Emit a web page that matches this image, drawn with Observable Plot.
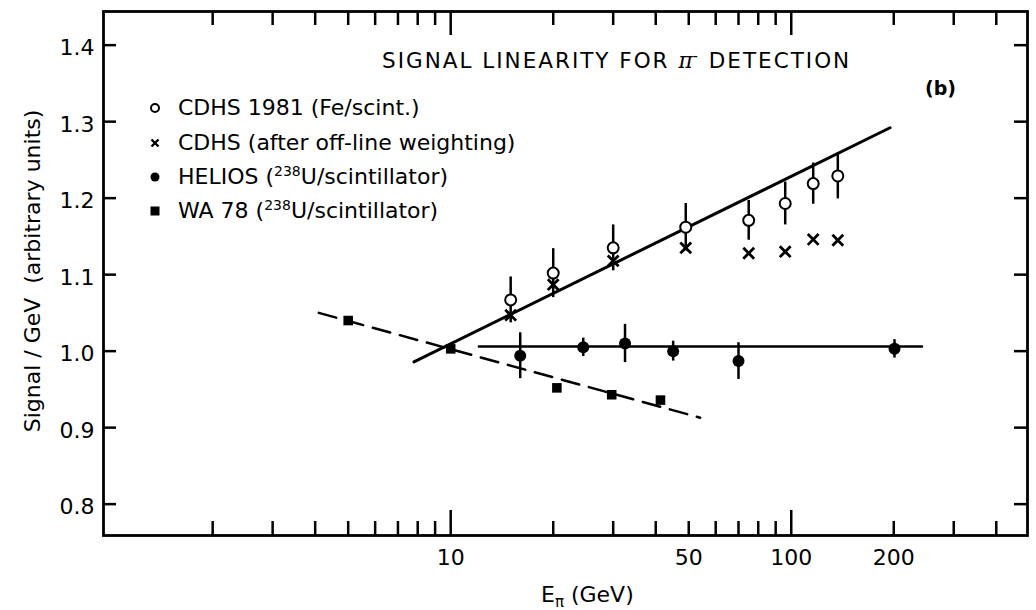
<!DOCTYPE html>
<html><head><meta charset="utf-8">
<script src="https://cdn.jsdelivr.net/npm/d3@7"></script>
<script src="https://cdn.jsdelivr.net/npm/@observablehq/plot@0.6"></script>
<style>
body{margin:0;background:#fff;}
#wrap{position:relative;width:1036px;height:610px;font-family:"DejaVu Sans",sans-serif;color:#000;overflow:hidden;}
#wrap > svg{position:absolute;left:0;top:0;}
#wrap > svg g[aria-label$="tick label"] text{font-size:22px;}
.ov{position:absolute;white-space:nowrap;line-height:1;}
.title{left:382px;top:50px;font-size:21.5px;letter-spacing:2px;}
.title i{font-family:"DejaVu Serif",serif;font-style:italic;letter-spacing:0;}
.title sup{font-size:15px;vertical-align:7px;line-height:0;}
.panel{left:925px;top:79px;font-size:19px;font-weight:bold;}
.legend{left:146px;top:0;font-size:22px;}
.row{position:absolute;left:0;height:26px;display:flex;align-items:center;}
#wrap .row svg{position:static;width:18px;height:18px;margin-right:14px;flex:none;}
.row sup{font-size:14px;vertical-align:8px;line-height:0;}
.xlabel{left:541px;top:584px;font-size:22px;}
.xlabel sub{font-size:15px;vertical-align:-5px;line-height:0;}
.ylabel{left:33px;top:271px;font-size:22px;transform:translate(-50%,-50%) rotate(-90deg);}
</style></head><body>
<div id="wrap"></div>
<script>
// ---- data ----
const cdhsE = [15, 20, 30, 49, 75, 96, 116, 137];
const cdhsSignal = [1.067, 1.102, 1.135, 1.162, 1.171, 1.193, 1.219, 1.229];
const cdhsErr = [0.030, 0.032, 0.030, 0.031, 0.026, 0.028, 0.027, 0.030];
const cdhsWeightedSignal = [1.047, 1.087, 1.118, 1.135, 1.128, 1.130, 1.146, 1.145];
const heliosE = [16, 24.5, 32.5, 45, 70, 201];
const heliosSignal = [0.994, 1.005, 1.010, 1.000, 0.987, 1.003];
const heliosErr = [0.030, 0.012, 0.025, 0.013, 0.024, 0.012];
const wa78E = [5, 10, 20.5, 29.7, 41.3];
const wa78Signal = [1.040, 1.003, 0.952, 0.943, 0.936];
const cdhsFitE = [7.8, 195];
const cdhsFitSignal = [0.986, 1.292];
const heliosFitE = [12.1, 242];
const heliosFitSignal = [1.006, 1.006];
const wa78FitE = [4.1, 54];
const wa78FitSignal = [1.050, 0.913];
const xMinorTicks = [2, 3, 4, 5, 6, 7, 8, 9, 20, 30, 40, 50, 60, 70, 80, 90, 200, 300, 400];
const xMajorTicks = [10, 100];
const xTickLabels = [10, 50, 100, 200];
const yTicks = [0.8, 0.9, 1.0, 1.1, 1.2, 1.3, 1.4];
const legendLabels = [
  "CDHS 1981 (Fe/scint.)",
  "CDHS (after off-line weighting)",
  "HELIOS (<sup>238</sup>U/scintillator)",
  "WA 78 (<sup>238</sup>U/scintillator)"
];
const titleText = "SIGNAL LINEARITY FOR <i>π</i><sup>-</sup> DETECTION";
const panelText = "(b)";
const xLabelHtml = "E<sub>π</sub> (GeV)";
const yLabelText = "Signal / GeV\u00a0\u00a0(arbitrary units)";

// ---- build tables ----
const zip = (E, S, Er) => E.map((e, i) => ({e, s: S[i], err: Er ? Er[i] : 0}));
const cdhs = zip(cdhsE, cdhsSignal, cdhsErr);
const cdhsW = zip(cdhsE, cdhsWeightedSignal);
const helios = zip(heliosE, heliosSignal, heliosErr);
const wa78 = zip(wa78E, wa78Signal);
const cdhsFit = zip(cdhsFitE, cdhsFitSignal);
const heliosFit = zip(heliosFitE, heliosFitSignal);
const wa78Fit = zip(wa78FitE, wa78FitSignal);

const W = 1036, H = 610, mT = 11, mR = 9, mB = 75, mL = 103;
const pw = W - mL - mR, ph = H - mT - mB;
const sw = 2.5;

const chart = Plot.plot({
  width: W, height: H,
  marginTop: mT, marginRight: mR, marginBottom: mB, marginLeft: mL,
  style: {fontFamily: '"DejaVu Sans", sans-serif', fontSize: "22px", color: "#000", background: "#fff"},
  x: {type: "log", domain: [0.956, 494]},
  y: {domain: [0.759, 1.444]},
  marks: [
    Plot.tickX(xMinorTicks, {x: d => d, insetTop: ph - 14, strokeWidth: sw}),
    Plot.tickX(xMajorTicks, {x: d => d, insetTop: ph - 25, strokeWidth: sw}),
    Plot.tickX(xMinorTicks, {x: d => d, insetBottom: ph - 14, strokeWidth: sw}),
    Plot.tickX(xMajorTicks, {x: d => d, insetBottom: ph - 24, strokeWidth: sw}),
    Plot.tickY(yTicks, {y: d => d, insetRight: pw - 13, strokeWidth: sw}),
    Plot.tickY(yTicks, {y: d => d, insetLeft: pw - 13, strokeWidth: sw}),
    Plot.axisX(xTickLabels, {tickSize: 0, tickPadding: 14, tickFormat: d => String(d), label: null, fontSize: 22}),
    Plot.axisY(yTicks, {tickSize: 0, tickPadding: 9, tickFormat: d => d.toFixed(1), label: null, fontSize: 22, dy: 3}),
    Plot.frame({strokeWidth: 2.8}),
    Plot.line(wa78Fit, {x: "e", y: "s", strokeWidth: 2.5, strokeDasharray: "18,10"}),
    Plot.line(cdhsFit, {x: "e", y: "s", strokeWidth: 3}),
    Plot.line(heliosFit, {x: "e", y: "s", strokeWidth: 2.5}),
    Plot.ruleX(cdhs, {x: "e", y1: d => d.s - d.err, y2: d => d.s + d.err, strokeWidth: sw}),
    Plot.ruleX(helios, {x: "e", y1: d => d.s - d.err, y2: d => d.s + d.err, strokeWidth: sw}),
    Plot.dot(cdhsW, {x: "e", y: "s", symbol: "times", r: 5, stroke: "#000", strokeWidth: 2.8}),
    Plot.dot(cdhs, {x: "e", y: "s", r: 5.5, fill: "#fff", stroke: "#000", strokeWidth: 2}),
    Plot.dot(helios, {x: "e", y: "s", r: 6, fill: "#000", stroke: "none"}),
    Plot.dot(wa78, {x: "e", y: "s", symbol: "square", r: 5.4, fill: "#000", stroke: "none"})
  ]
});

const wrap = document.getElementById("wrap");
wrap.appendChild(chart);

function ov(cls, html) {
  const d = document.createElement("div");
  d.className = "ov " + cls;
  d.innerHTML = html;
  wrap.appendChild(d);
  return d;
}
ov("title", titleText);
ov("panel", panelText);
ov("xlabel", xLabelHtml);
ov("ylabel", yLabelText);

const symbols = [
  '<svg viewBox="0 0 18 18"><circle cx="9" cy="9" r="4" fill="#fff" stroke="#000" stroke-width="2"/></svg>',
  '<svg viewBox="0 0 18 18"><path d="M5.5 5.5L12.5 12.5M12.5 5.5L5.5 12.5" stroke="#000" stroke-width="2.4"/></svg>',
  '<svg viewBox="0 0 18 18"><circle cx="9" cy="9" r="4.5" fill="#000"/></svg>',
  '<svg viewBox="0 0 18 18"><rect x="4.5" y="4.5" width="9" height="9" fill="#000"/></svg>'
];
const legend = ov("legend", "");
const rowCenters = [108, 143, 177, 211];
legendLabels.forEach((lab, i) => {
  const r = document.createElement("div");
  r.className = "row";
  r.style.top = (rowCenters[i] - 13) + "px";
  r.innerHTML = symbols[i] + "<span>" + lab + "</span>";
  legend.appendChild(r);
});
</script>
</body></html>
